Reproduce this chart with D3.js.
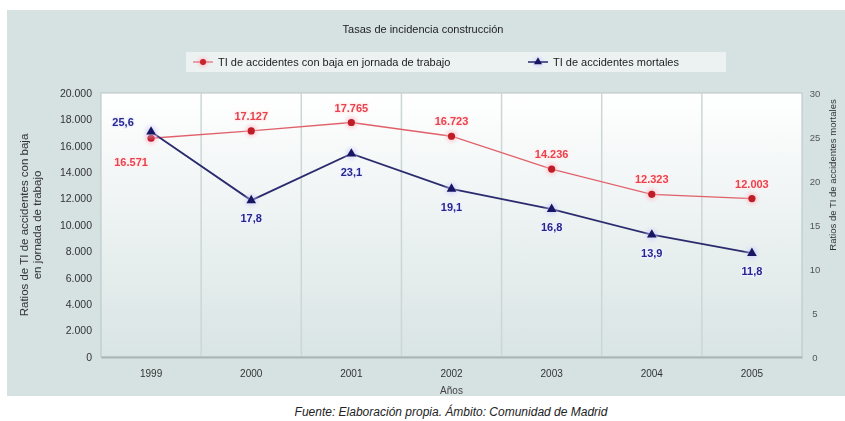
<!DOCTYPE html>
<html>
<head>
<meta charset="utf-8">
<script src="https://cdn.jsdelivr.net/npm/d3@7"></script>
<style>
  html, body { margin: 0; padding: 0; background: #ffffff; }
  svg { display: block; font-family: "Liberation Sans", Arial, sans-serif; }
</style>
</head>
<body>
<svg id="chart" width="845" height="421"></svg>
<script>
// Incidence rates in construction, Comunidad de Madrid
const years = ["1999", "2000", "2001", "2002", "2003", "2004", "2005"];
const bajaValues = [16571, 17127, 17765, 16723, 14236, 12323, 12003];
const mortalValues = [25.6, 17.8, 23.1, 19.1, 16.8, 13.9, 11.8];
const leftTicks = [0, 2000, 4000, 6000, 8000, 10000, 12000, 14000, 16000, 18000, 20000];
const rightTicks = [0, 5, 10, 15, 20, 25, 30];

const titleText = "Tasas de incidencia construcción";
const bajaName = "TI de accidentes con baja en jornada de trabajo";
const mortalName = "TI de accidentes mortales";
const leftTitle = ["Ratios de TI de accidentes con baja", "en jornada de trabajo"];
const rightTitle = "Ratios de TI de accidentes mortales";
const xTitle = "Años";
const footer = "Fuente: Elaboración propia. Ámbito: Comunidad de Madrid";

const svg = d3.select("#chart");
const plot = { left: 101, right: 802, top: 93, bottom: 357 };

const fmtThousands = d => d3.format(",")(d).replace(/,/g, ".");
const fmtDecimal = d => d3.format(".1f")(d).replace(".", ",");

// Scales
const x = d3.scaleBand().domain(years).range([plot.left, plot.right]);
const yL = d3.scaleLinear().domain([0, 20000]).range([plot.bottom, plot.top]);
const yR = d3.scaleLinear().domain([0, 30]).range([plot.bottom, plot.top]);

// Gradients and filters
const defs = svg.append("defs");
const bg = defs.append("linearGradient").attr("id", "plotBg")
  .attr("x1", 0).attr("y1", 0).attr("x2", 0).attr("y2", 1);
bg.append("stop").attr("offset", "0%").attr("stop-color", "#ffffff");
bg.append("stop").attr("offset", "100%").attr("stop-color", "#d9e4e4");

const glowR = defs.append("radialGradient").attr("id", "glowRed");
glowR.append("stop").attr("offset", "0%").attr("stop-color", "#ff9aa8").attr("stop-opacity", 0.8);
glowR.append("stop").attr("offset", "100%").attr("stop-color", "#ffd0d8").attr("stop-opacity", 0);
const glowB = defs.append("radialGradient").attr("id", "glowBlue");
glowB.append("stop").attr("offset", "0%").attr("stop-color", "#b0b0ff").attr("stop-opacity", 0.7);
glowB.append("stop").attr("offset", "100%").attr("stop-color", "#dcdcff").attr("stop-opacity", 0);

const soft = defs.append("filter").attr("id", "soft");
soft.append("feGaussianBlur").attr("stdDeviation", 0.45);

// Outer panel
svg.append("rect").attr("x", 7).attr("y", 10).attr("width", 838).attr("height", 386)
  .attr("fill", "#d6e2e2");

const g = svg.append("g").attr("filter", "url(#soft)");

// Plot background
g.append("rect").attr("x", plot.left).attr("y", plot.top)
  .attr("width", plot.right - plot.left).attr("height", plot.bottom - plot.top)
  .attr("fill", "url(#plotBg)").attr("stroke", "#b8c4c4").attr("stroke-width", 1);

// Vertical separators between categories
g.append("g").selectAll("line").data(years.slice(1)).join("line")
  .attr("x1", d => x(d)).attr("x2", d => x(d))
  .attr("y1", plot.top).attr("y2", plot.bottom)
  .attr("stroke", "#cdd6d6").attr("stroke-width", 1.5);

// Left axis
const axL = g.append("g").attr("transform", `translate(${plot.left},0)`)
  .call(d3.axisLeft(yL).tickValues(leftTicks).tickFormat(fmtThousands).tickSize(0).tickPadding(9));
axL.select(".domain").remove();
axL.selectAll("text").attr("font-size", 10.5).attr("fill", "#333");

// Right axis
const axR = g.append("g").attr("transform", `translate(${plot.right},0)`)
  .call(d3.axisRight(yR).tickValues(rightTicks).tickSize(0).tickPadding(13));
axR.select(".domain").remove();
axR.selectAll("text").attr("font-size", 9.5).attr("fill", "#555").attr("text-anchor", "middle");

// Bottom axis
const axB = g.append("g").attr("transform", `translate(0,${plot.bottom})`)
  .call(d3.axisBottom(x).tickSize(0).tickPadding(13));
axB.select(".domain").attr("stroke", "#aab6b6").attr("stroke-width", 2);
axB.selectAll("text").attr("font-size", 10).attr("fill", "#333");

// Axis titles
g.append("text").attr("x", (plot.left + plot.right) / 2).attr("y", 394)
  .attr("text-anchor", "middle").attr("font-size", 10).attr("fill", "#444").text(xTitle);

leftTitle.forEach((t, i) => {
  g.append("text")
    .attr("transform", `translate(${28 + i * 13},${(plot.top + plot.bottom) / 2}) rotate(-90)`)
    .attr("text-anchor", "middle").attr("font-size", 11.5).attr("fill", "#333").text(t);
});
g.append("text")
  .attr("transform", "translate(836,175) rotate(-90)")
  .attr("text-anchor", "middle").attr("font-size", 9.5).attr("fill", "#333").text(rightTitle);

// Title
g.append("text").attr("x", 423).attr("y", 33).attr("text-anchor", "middle")
  .attr("font-size", 11).attr("fill", "#222").text(titleText);

// Legend
const leg = g.append("g");
leg.append("rect").attr("x", 186).attr("y", 52).attr("width", 540).attr("height", 20)
  .attr("fill", "#eef4f4").attr("opacity", 0.9);
leg.append("circle").attr("cx", 203).attr("cy", 62).attr("r", 8).attr("fill", "url(#glowRed)");
leg.append("line").attr("x1", 193).attr("x2", 213).attr("y1", 62).attr("y2", 62)
  .attr("stroke", "#e05060").attr("stroke-width", 1);
leg.append("circle").attr("cx", 203).attr("cy", 62).attr("r", 3).attr("fill", "#c8202a");
leg.append("text").attr("x", 218).attr("y", 66).attr("font-size", 11).attr("fill", "#222").text(bajaName);
leg.append("circle").attr("cx", 538).attr("cy", 62).attr("r", 8).attr("fill", "url(#glowBlue)");
leg.append("line").attr("x1", 528).attr("x2", 548).attr("y1", 62).attr("y2", 62)
  .attr("stroke", "#2a2a70").attr("stroke-width", 1.5);
leg.append("path").attr("d", d3.symbol(d3.symbolTriangle, 28)())
  .attr("transform", "translate(538,62)").attr("fill", "#141462");
leg.append("text").attr("x", 553).attr("y", 66).attr("font-size", 11).attr("fill", "#222").text(mortalName);

// Series lines
const bajaData = years.map((yr, i) => ({ yr, v: bajaValues[i] }));
const mortalData = years.map((yr, i) => ({ yr, v: mortalValues[i] }));
const cx = d => x(d.yr) + x.bandwidth() / 2;

g.append("path").datum(bajaData)
  .attr("d", d3.line().x(cx).y(d => yL(d.v)))
  .attr("fill", "none").attr("stroke", "#e0606a").attr("stroke-width", 1.3);
g.append("path").datum(mortalData)
  .attr("d", d3.line().x(cx).y(d => yR(d.v)))
  .attr("fill", "none").attr("stroke", "#2c2c6e").attr("stroke-width", 1.8);

// Markers
g.append("g").selectAll("circle").data(bajaData).join("circle")
  .attr("cx", cx).attr("cy", d => yL(d.v)).attr("r", 9).attr("fill", "url(#glowRed)");
g.append("g").selectAll("circle").data(bajaData).join("circle")
  .attr("cx", cx).attr("cy", d => yL(d.v)).attr("r", 3.6).attr("fill", "#c01a28");
g.append("g").selectAll("circle").data(mortalData).join("circle")
  .attr("cx", cx).attr("cy", d => yR(d.v)).attr("r", 9).attr("fill", "url(#glowBlue)");
g.append("g").selectAll("path").data(mortalData).join("path")
  .attr("d", d3.symbol(d3.symbolTriangle, 40)())
  .attr("transform", d => `translate(${cx(d)},${yR(d.v)})`).attr("fill", "#141462");

// Value labels
g.append("g").selectAll("text").data(bajaData).join("text")
  .attr("x", (d, i) => i === 0 ? cx(d) - 20 : cx(d))
  .attr("y", (d, i) => i === 0 ? yL(d.v) + 28 : yL(d.v) - 11)
  .attr("text-anchor", "middle").attr("font-size", 11).attr("font-weight", "bold")
  .attr("fill", "#e8424e").attr("stroke", "#fff0f0").attr("stroke-width", 2.5)
  .attr("paint-order", "stroke").text(d => fmtThousands(d.v));

g.append("g").selectAll("text").data(mortalData).join("text")
  .attr("x", (d, i) => i === 0 ? cx(d) - 28 : cx(d))
  .attr("y", (d, i) => i === 0 ? yR(d.v) - 6 : yR(d.v) + 22)
  .attr("text-anchor", "middle").attr("font-size", 11).attr("font-weight", "bold")
  .attr("fill", "#26268c").attr("stroke", "#eef0ff").attr("stroke-width", 2.5)
  .attr("paint-order", "stroke").text(d => fmtDecimal(d.v));

// Source note
svg.append("text").attr("x", 451).attr("y", 416).attr("text-anchor", "middle")
  .attr("font-size", 12).attr("font-style", "italic").attr("fill", "#222").text(footer);
</script>
</body>
</html>
